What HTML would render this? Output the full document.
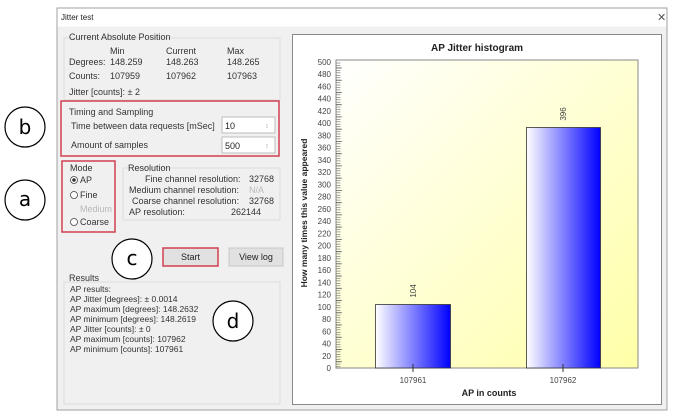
<!DOCTYPE html>
<html><head><meta charset="utf-8"><style>
html,body{margin:0;padding:0;background:#fff;}
svg{display:block;font-family:"Liberation Sans",sans-serif;}
</style></head><body>
<svg width="681" height="417" viewBox="0 0 681 417" xmlns="http://www.w3.org/2000/svg">
<defs>
<linearGradient id="bg" x1="0" y1="0" x2="1" y2="1"><stop offset="0" stop-color="#ffffff"/><stop offset="1" stop-color="#ffffa8"/></linearGradient>
<linearGradient id="bar" x1="0" y1="0" x2="1" y2="0"><stop offset="0" stop-color="#ffffff"/><stop offset="1" stop-color="#0000ff"/></linearGradient>
<pattern id="minor" patternUnits="userSpaceOnUse" x="336" y="67.6" width="10" height="2.448"><line x1="0" y1="0.3" x2="4.5" y2="0.3" stroke="#666" stroke-width="0.6"/></pattern>
<pattern id="major" patternUnits="userSpaceOnUse" x="336" y="67.6" width="10" height="12.24"><line x1="0" y1="0.3" x2="6" y2="0.3" stroke="#555" stroke-width="0.8"/></pattern>
</defs>
<!-- window -->
<rect x="57" y="8" width="610" height="402" fill="#f0f0f0" stroke="#a0a0a0"/>
<rect x="57.5" y="8.5" width="609" height="18" fill="#ffffff"/>
<text x="61" y="20" font-size="8" fill="#222">Jitter test</text>
<text x="657" y="21" font-size="11" fill="#555">✕</text>
<!-- group boxes -->
<g fill="none" stroke="#dcdcdc">
<rect x="64" y="38" width="216" height="62"/>
<rect x="123" y="168" width="157" height="52"/>
<rect x="64" y="282" width="216" height="122"/>
</g>
<g font-size="9" fill="#333">
<text x="69" y="40">Current Absolute Position</text>
<text x="110" y="54">Min</text><text x="166" y="54">Current</text><text x="227" y="54">Max</text>
<text x="69" y="65">Degrees:</text><text x="110" y="65">148.259</text><text x="166" y="65">148.263</text><text x="227" y="65">148.265</text>
<text x="69" y="79">Counts:</text><text x="110" y="79">107959</text><text x="166" y="79">107962</text><text x="227" y="79">107963</text>
<text x="69" y="95">Jitter [counts]: ± 2</text>
<text x="69" y="115">Timing and Sampling</text>
<text x="71" y="129">Time between data requests [mSec]</text>
<text x="71" y="148">Amount of samples</text>
<text x="70" y="171">Mode</text>
<text x="80" y="183">AP</text>
<text x="80" y="198">Fine</text>
<text x="80" y="212" fill="#b8b8b8">Medium</text>
<text x="80" y="225">Coarse</text>
<text x="128" y="171">Resolution</text>
<text x="145" y="182">Fine channel resolution:</text><text x="249" y="182">32768</text>
<text x="129" y="193">Medium channel resolution:</text><text x="249" y="193" fill="#b8b8b8">N/A</text>
<text x="132" y="204">Coarse channel resolution:</text><text x="249" y="204">32768</text>
<text x="129" y="215">AP resolution:</text><text x="231" y="215">262144</text>
<text x="69" y="281">Results</text>
</g>
<g font-size="8.5" fill="#333">
<text x="70" y="292">AP results:</text>
<text x="70" y="302">AP Jitter  [degrees]: ± 0.0014</text>
<text x="70" y="312">AP maximum [degrees]: 148.2632</text>
<text x="70" y="322">AP minimum [degrees]: 148.2619</text>
<text x="70" y="332">AP Jitter  [counts]: ± 0</text>
<text x="70" y="342">AP maximum [counts]: 107962</text>
<text x="70" y="352">AP minimum [counts]: 107961</text>
</g>
<!-- inputs -->
<rect x="222" y="117" width="53" height="16" fill="#fff" stroke="#bbb"/>
<rect x="222" y="137" width="53" height="16" fill="#fff" stroke="#bbb"/>
<text x="225" y="129" font-size="9" fill="#222">10</text>
<text x="225" y="149" font-size="9" fill="#222">500</text>
<text x="266" y="128" font-size="6" fill="#666">⁝</text><text x="266" y="148" font-size="6" fill="#666">⁝</text>
<!-- radios -->
<g fill="#fff" stroke="#444" stroke-width="0.8">
<circle cx="74" cy="180" r="3.5"/><circle cx="74" cy="195" r="3.5"/><circle cx="74" cy="222" r="3.5"/>
</g>
<circle cx="74" cy="180" r="1.8" fill="#333"/>
<!-- buttons -->
<rect x="163" y="248" width="55" height="18" fill="#e1e1e1" stroke="#d04050" stroke-width="1.5"/>
<text x="190.5" y="260" font-size="9" text-anchor="middle" fill="#222">Start</text>
<rect x="229" y="248" width="54" height="18" fill="#e1e1e1" stroke="#c8c8c8"/>
<text x="256" y="260" font-size="9" text-anchor="middle" fill="#222">View log</text>
<!-- red boxes -->
<g fill="none" stroke="#d04050" stroke-width="1.5">
<rect x="61" y="101" width="218" height="55"/>
<rect x="62" y="161" width="53" height="71"/>
</g>
<!-- circles -->
<g fill="#fff" stroke="#000" stroke-width="1.2">
<circle cx="25" cy="127" r="20"/><circle cx="25" cy="200" r="20"/>
<circle cx="132" cy="259" r="20"/><circle cx="233" cy="321" r="20"/>
</g>
<g font-family="'DejaVu Sans',sans-serif" font-size="20" text-anchor="middle" fill="#000">
<text x="25" y="134">b</text><text x="25" y="206">a</text><text x="132" y="265">c</text><text x="233" y="328">d</text>
</g>
<!-- chart panel -->
<rect x="292.5" y="34.5" width="369" height="370" fill="#fff" stroke="#888"/>
<text x="477" y="51" font-size="10" font-weight="bold" text-anchor="middle" fill="#222">AP Jitter histogram</text>
<rect x="336" y="60" width="302" height="308" fill="url(#bg)" stroke="#888"/>
<rect x="336" y="61.6" width="6" height="307" fill="url(#minor)"/>
<rect x="336" y="61.6" width="6" height="307" fill="url(#major)"/>
<g font-size="8" fill="#444" text-anchor="end">
<text x="331" y="371">0</text><text x="331" y="358.8">20</text><text x="331" y="346.5">40</text><text x="331" y="334.3">60</text><text x="331" y="322">80</text>
<text x="331" y="309.8">100</text><text x="331" y="297.6">120</text><text x="331" y="285.3">140</text><text x="331" y="273.1">160</text><text x="331" y="260.8">180</text>
<text x="331" y="248.6">200</text><text x="331" y="236.4">220</text><text x="331" y="224.1">240</text><text x="331" y="211.9">260</text><text x="331" y="199.6">280</text>
<text x="331" y="187.4">300</text><text x="331" y="175.2">320</text><text x="331" y="162.9">340</text><text x="331" y="150.7">360</text><text x="331" y="138.4">380</text>
<text x="331" y="126.2">400</text><text x="331" y="114">420</text><text x="331" y="101.7">440</text><text x="331" y="89.5">460</text><text x="331" y="77.2">480</text><text x="331" y="65">500</text>
</g>
<rect x="375.5" y="304.5" width="75" height="63.5" fill="url(#bar)" stroke="#333" stroke-width="0.8"/>
<rect x="526.5" y="127.5" width="74" height="240.5" fill="url(#bar)" stroke="#333" stroke-width="0.8"/>
<line x1="413" y1="364" x2="413" y2="372" stroke="#333"/><line x1="563" y1="364" x2="563" y2="372" stroke="#333"/>
<text transform="translate(416,291) rotate(-90)" font-size="8" fill="#444" text-anchor="middle">104</text>
<text transform="translate(566,114) rotate(-90)" font-size="8" fill="#444" text-anchor="middle">396</text>
<text x="413" y="383" font-size="8" fill="#444" text-anchor="middle">107961</text>
<text x="563" y="383" font-size="8" fill="#444" text-anchor="middle">107962</text>
<text x="489" y="396" font-size="9" font-weight="bold" fill="#222" text-anchor="middle">AP in counts</text>
<text transform="translate(307,213) rotate(-90)" font-size="8.5" font-weight="bold" fill="#222" text-anchor="middle">How many times this value appeared</text>
</svg>
</body></html>
